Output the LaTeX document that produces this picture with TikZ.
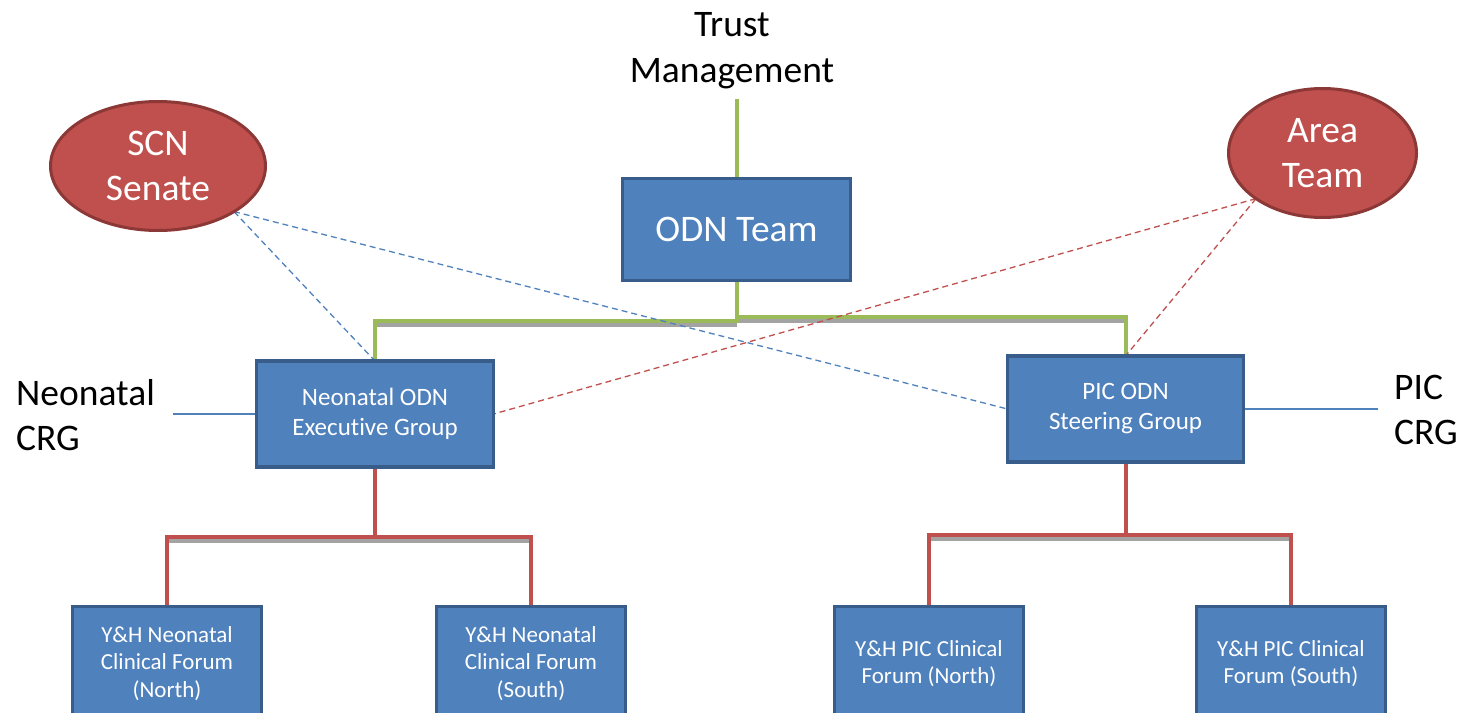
\documentclass[tikz,border=0pt]{standalone}
\usepackage{fontspec}
\setmainfont{Carlito}[RawFeature=-liga]
\usetikzlibrary{shapes.geometric,backgrounds}
\definecolor{boxfill}{HTML}{4F81BD}
\definecolor{boxline}{HTML}{385D8A}
\definecolor{ovalfill}{HTML}{C0504D}
\definecolor{ovalline}{HTML}{8C3836}
\definecolor{greenline}{HTML}{9BBB59}
\definecolor{redline}{HTML}{C0504D}
\definecolor{shadowgrey}{HTML}{A3A3A3}
\begin{document}
\begin{tikzpicture}%
	[x=1pt,
	y=-1pt,
	bigtext/.style={font=\fontsize{37.5}{46}\selectfont, align=center, inner sep=0pt},
	crgtext/.style={font=\fontsize{37.5}{45}\selectfont, align=left, inner sep=0pt, anchor=west},
	topbox/.style={rectangle, draw=boxline, fill=boxfill, line width=3.5pt, text=white, inner sep=0pt, outer sep=0pt, align=center, font=\fontsize{37.5}{45}\selectfont},
	midbox/.style={rectangle, draw=boxline, fill=boxfill, line width=3.5pt, text=white, inner sep=0pt, outer sep=0pt, align=center, minimum height=106pt, font=\fontsize{25}{30}\selectfont},
	forumbox/.style={rectangle, draw=boxline, fill=boxfill, line width=3.5pt, text=white, inner sep=0pt, outer sep=0pt, align=center, minimum width=189pt, minimum height=114pt, font=\fontsize{23}{27.5}\selectfont},
	oval/.style={ellipse, draw=ovalline, fill=ovalfill, line width=3pt, text=white, inner sep=0pt, outer sep=0pt, align=center, minimum height=129pt, font=\fontsize{37.5}{45}\selectfont},
	greenlink/.style={color=greenline, line width=4pt},
	redlink/.style={color=redline, line width=4pt},
	shadowlink/.style={color=shadowgrey, line width=3.5pt, transform canvas={yshift=-4pt}},
	crgline/.style={color=boxfill, line width=1.5pt},
	bluedash/.style={color=boxfill, line width=1.3pt, dash pattern=on 6pt off 4pt},
	reddash/.style={color=redline, line width=1.3pt, dash pattern=on 6pt off 4pt}]
%
\useasboundingbox (0,0) rectangle (1461,712);
%%
%% Nodes
%%
\node[bigtext] (trust) at (732,51) {Trust\\Management};
\node[topbox, minimum width=228pt, minimum height=102pt] (odn) at (736.5,229.5) {ODN Team};
\node[oval, minimum width=215pt] (scn) at (158,166) {SCN\\Senate};
\node[oval, minimum width=188pt] (area) at (1322.5,153) {Area\\Team};
\node[midbox, minimum width=237pt] (neo) at (375,414) {Neonatal ODN\\Executive Group};
\node[midbox, minimum width=236pt] (pic) at (1125.5,409) {PIC ODN\\Steering Group};
\node[crgtext] (neocrg) at (16,415) {Neonatal\\CRG};
\node[crgtext] (piccrg) at (1394,410) {PIC\\CRG};
\node[forumbox] (neonorth) at (167,663.5) {Y\&H Neonatal\\Clinical Forum\\(North)};
\node[forumbox] (neosouth) at (531,663.5) {Y\&H Neonatal\\Clinical Forum\\(South)};
\node[forumbox] (picnorth) at (929,663.5) {Y\&H PIC Clinical\\Forum (North)};
\node[forumbox] (picsouth) at (1291,663.5) {Y\&H PIC Clinical\\Forum (South)};
%%
\coordinate (gl) at (736.5,321);
\coordinate (gr) at (736.5,317);
\coordinate (nr) at (375,537);
\coordinate (pr) at (1125.5,535);
%%
%% Connectors behind the boxes (shadows first)
%%
\begin{pgfonlayer}{background}
\draw[shadowlink] (gl) -| (neo.north);
\draw[shadowlink] (gr) -| (pic.north);
\draw[shadowlink] (nr) -| (neonorth.north);
\draw[shadowlink] (nr) -| (neosouth.north);
\draw[shadowlink] (pr) -| (picnorth.north);
\draw[shadowlink] (pr) -| (picsouth.north);
%%
\draw[greenlink, shorten <=10pt] (trust.south -| odn.north) -- (odn.north);
\draw[greenlink] (odn.south) -- (gl) -| (neo.north);
\draw[greenlink] (gr) -| (pic.north);
\draw[redlink] (neo.south) -- (nr) -| (neonorth.north);
\draw[redlink] (nr) -| (neosouth.north);
\draw[redlink] (pic.south) -- (pr) -| (picnorth.north);
\draw[redlink] (pr) -| (picsouth.north);
%%
\draw[crgline] ([xshift=18pt]neocrg.east |- neo.west) -- (neo.west);
\draw[crgline] (pic.east) -- ([xshift=-16pt]piccrg.west |- pic.east);
%%
%% Dashed links
%%
\draw[bluedash] (scn.south east) -- (neo.north);
\draw[bluedash] (scn.south east) -- (pic.west);
\draw[reddash] (area.south west) -- (neo.east);
\draw[reddash] (area.south west) -- (pic.north);
\end{pgfonlayer}

\end{tikzpicture}
\end{document}
